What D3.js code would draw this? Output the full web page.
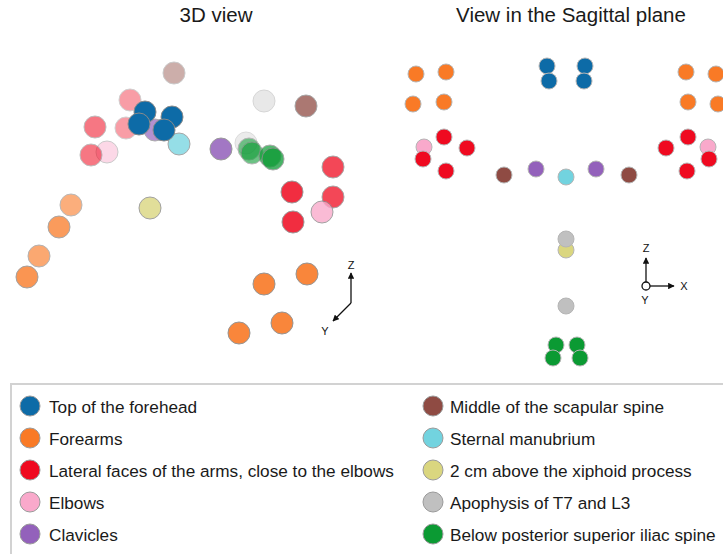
<!DOCTYPE html>
<html>
<head>
<meta charset="utf-8">
<script src="https://cdn.jsdelivr.net/npm/d3@7"></script>
<style>
  body { margin: 0; background: #fff; }
  svg { display: block; font-family: "Liberation Sans", Arial, Helvetica, sans-serif; }
</style>
</head>
<body>
<svg id="chart" width="723" height="554"></svg>
<script>
// Anatomical landmarks (legend order)
const landmarks = [
  "Top of the forehead",
  "Forearms",
  "Lateral faces of the arms, close to the elbows",
  "Elbows",
  "Clavicles",
  "Middle of the scapular spine",
  "Sternal manubrium",
  "2 cm above the xiphoid process",
  "Apophysis of T7 and L3",
  "Below posterior superior iliac spine"
];
const landmarkColors = [
  "#0d6ba7", "#f97a26", "#ef0a20", "#f9a9cb", "#9361bb",
  "#8f4b43", "#72d3df", "#dad67f", "#c0c0c0", "#0b9a33"
];

// 3D view: [landmark, horizontal u (mm), vertical v (mm), depth (0 = front, 100 = back)]
const view3dPoints = [
  [0, -90, 176, 0], [0, -36, 166, 0], [0, -102, 152, 0], [0, -52, 140, 0],
  [1, -238, -10, 57], [1, -262, -54, 36], [1, -302, -112, 50], [1, -326, -154, 29],
  [1, 234, -148, 14], [1, 148, -168, 14], [1, 184, -246, 14], [1, 98, -266, 14],
  [2, -120, 200, 86], [2, -190, 146, 64], [2, -128, 144, 86], [2, -198, 90, 64],
  [2, 286, 66, 36], [2, 204, 16, 21], [2, 286, 6, 36], [2, 206, -44, 21],
  [3, -166, 96, 79], [3, 264, -24, 30],
  [4, -70, 140, 43], [4, 62, 102, 21],
  [5, -32, 254, 79], [5, 232, 188, 36],
  [6, -22, 112, 36],
  [7, -80, -16, 29],
  [8, 148, 198, 93], [8, 112, 114, 100],
  [9, 118, 102, 64], [9, 124, 94, 57], [9, 160, 88, 43], [9, 166, 82, 36]
];

// Sagittal-plane view: [landmark, X (mm), Z (mm)]
const sagittalPoints = [
  [0, -38, 292], [0, -34, 262], [0, 38, 292], [0, 36, 262],
  [1, -300, 276], [1, -240, 280], [1, -306, 216], [1, -244, 220],
  [1, 240, 280], [1, 300, 276], [1, 244, 220], [1, 304, 216],
  [3, -284, 130], [3, 284, 130],
  [2, -244, 150], [2, -198, 128], [2, -286, 106], [2, -240, 82],
  [2, 244, 150], [2, 200, 128], [2, 286, 106], [2, 242, 82],
  [5, -124, 74], [5, 126, 74],
  [4, -60, 86], [4, 60, 86],
  [6, 0, 70],
  [7, 0, -76],
  [8, 0, -54], [8, 0, -188],
  [9, -20, -266], [9, 22, -266], [9, -26, -292], [9, 28, -292]
];

const panelTitles = ["3D view", "View in the Sagittal plane"];

const svg = d3.select("#chart");

// ---- titles
svg.selectAll("text.title")
  .data(panelTitles)
  .join("text")
  .attr("class", "title")
  .attr("x", (d, i) => [216, 571][i])
  .attr("y", 22)
  .attr("text-anchor", "middle")
  .attr("font-size", 20.5)
  .attr("fill", "#1a1a1a")
  .text(d => d);

// ---- 3D view
const x3 = d3.scaleLinear().domain([-200, 200]).range([90, 290]);
const y3 = d3.scaleLinear().domain([-200, 200]).range([300, 100]);
const depthOpacity = d3.scaleLinear().domain([0, 100]).range([1, 0.3]);

const g3 = svg.append("g");
g3.selectAll("circle")
  .data(view3dPoints.slice().sort((a, b) => b[3] - a[3]))
  .join("circle")
  .attr("cx", d => x3(d[1]))
  .attr("cy", d => y3(d[2]))
  .attr("r", 11)
  .attr("fill", d => landmarkColors[d[0]])
  .attr("stroke", "#8a8a8a")
  .attr("stroke-width", 1)
  .attr("opacity", d => depthOpacity(d[3]));

// ---- sagittal view
const xs = d3.scaleLinear().domain([-400, 400]).range([366, 766]);
const ys = d3.scaleLinear().domain([-300, 300]).range([362, 62]);

const gs = svg.append("g");
gs.selectAll("circle")
  .data(sagittalPoints)
  .join("circle")
  .attr("cx", d => xs(d[1]))
  .attr("cy", d => ys(d[2]))
  .attr("r", 8)
  .attr("fill", d => landmarkColors[d[0]])
  .attr("stroke", "#b5b5b5")
  .attr("stroke-width", 1);

// ---- orientation glyphs
const defs = svg.append("defs");
defs.append("marker")
  .attr("id", "arrow")
  .attr("viewBox", "0 0 10 10")
  .attr("refX", 9).attr("refY", 5)
  .attr("markerWidth", 5).attr("markerHeight", 5)
  .attr("orient", "auto")
  .append("path").attr("d", "M0,0L10,5L0,10z").attr("fill", "#111");

function axisGlyph(g, ox, oy, arrows, labels) {
  arrows.forEach(a => {
    g.append("line")
      .attr("x1", ox + a[0]).attr("y1", oy + a[1])
      .attr("x2", ox + a[2]).attr("y2", oy + a[3])
      .attr("stroke", "#111").attr("stroke-width", 1.3)
      .attr("marker-end", "url(#arrow)");
  });
  labels.forEach(l => {
    g.append("text")
      .attr("x", ox + l[1]).attr("y", oy + l[2])
      .attr("text-anchor", "middle")
      .attr("font-size", 11)
      .attr("fill", "#111")
      .text(l[0]);
  });
}

const glyph3 = svg.append("g");
axisGlyph(glyph3, 351, 303,
  [[0, 0, 0, -30], [0, 0, -18, 18]],
  [["Z", 0, -34], ["Y", -26, 32]]);

const glyphS = svg.append("g");
glyphS.append("circle").attr("cx", 646).attr("cy", 286).attr("r", 4)
  .attr("fill", "none").attr("stroke", "#111").attr("stroke-width", 1.3);
axisGlyph(glyphS, 646, 286,
  [[0, -4, 0, -28], [4, 0, 28, 0]],
  [["Z", 0, -34], ["X", 38, 4], ["Y", -1, 18]]);

// ---- legend
const legend = svg.append("g");
legend.append("rect")
  .attr("x", 11).attr("y", 384)
  .attr("width", 730).attr("height", 200)
  .attr("fill", "#fff")
  .attr("stroke", "#d2d2d2")
  .attr("stroke-width", 2);

const rowY = d3.scalePoint().domain(d3.range(5)).range([406, 534]);
const items = legend.selectAll("g.item")
  .data(landmarks)
  .join("g")
  .attr("class", "item")
  .attr("transform", (d, i) => `translate(${i < 5 ? 30 : 433},${rowY(i % 5)})`);

items.append("circle")
  .attr("r", 10)
  .attr("fill", (d, i) => landmarkColors[i])
  .attr("stroke", "#9a9a9a")
  .attr("stroke-width", 1);

items.append("text")
  .attr("x", (d, i) => i < 5 ? 19 : 17)
  .attr("y", 6.5)
  .attr("font-size", 17.2)
  .attr("fill", "#1a1a1a")
  .text(d => d);
</script>
</body>
</html>
